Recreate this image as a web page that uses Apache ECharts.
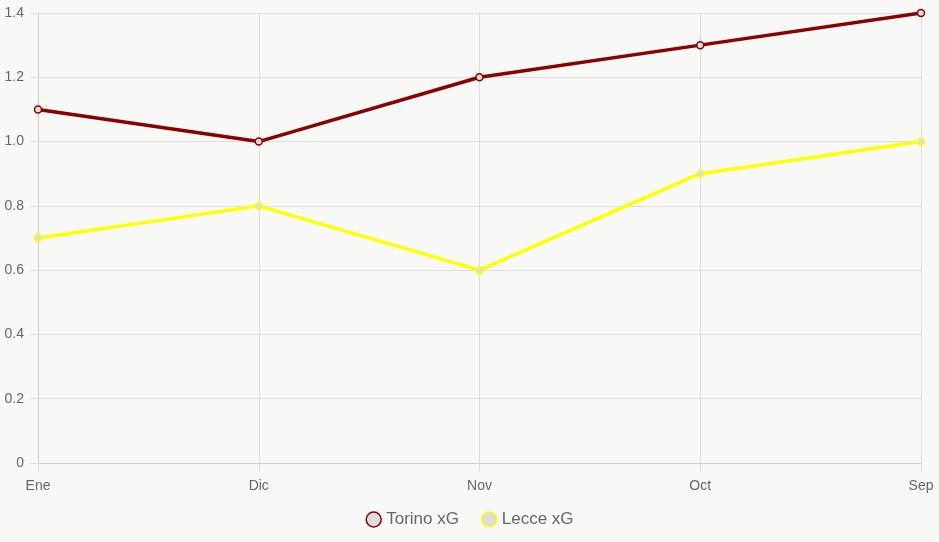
<!DOCTYPE html>
<html>
<head>
<meta charset="utf-8">
<script src="https://cdn.jsdelivr.net/npm/echarts@6/dist/echarts.min.js"></script>
<style>
  html, body { margin: 0; padding: 0; background: #f8f8f6; }
  #main { width: 939px; height: 542px; }
</style>
</head>
<body>
<div id="main"></div>
<script>
const months = ["Ene", "Dic", "Nov", "Oct", "Sep"];
const torinoXG = [1.1, 1.0, 1.2, 1.3, 1.4];
const lecceXG = [0.7, 0.8, 0.6, 0.9, 1.0];

const chart = echarts.init(document.getElementById("main"));

const lineSeries = (name, data, color) => ({
  name: name,
  type: "line",
  data: data,
  symbol: "circle",
  symbolSize: 7,
  lineStyle: { color: color, width: 3.5 },
  itemStyle: { color: "#dddddd", borderColor: color, borderWidth: 1.5 },
  emphasis: { disabled: true },
});

chart.setOption({
  backgroundColor: "#f8f8f6",
  animation: false,
  textStyle: { fontFamily: "Liberation Sans, Arial, sans-serif" },
  grid: { left: 38, right: 18, top: 13, bottom: 79 },
  legend: {
    bottom: 9,
    left: "center",
    icon: "circle",
    itemWidth: 15,
    itemHeight: 15,
    itemGap: 22,
    textStyle: { color: "#666", fontSize: 17 },
    data: [
      { name: "Torino xG", itemStyle: { color: "#dddddd", borderColor: "#8b0000", borderWidth: 1.5 } },
      { name: "Lecce xG", itemStyle: { color: "#dddddd", borderColor: "#ffff00", borderWidth: 1.5 } },
    ],
  },
  xAxis: {
    type: "category",
    data: months,
    boundaryGap: false,
    axisLine: { lineStyle: { color: "#cccccc" } },
    axisTick: { show: true, length: 8, lineStyle: { color: "#dddddd" } },
    axisLabel: { color: "#666", fontSize: 14, margin: 16 },
    splitLine: { show: true, lineStyle: { color: "#dddddd" } },
  },
  yAxis: {
    type: "value",
    min: 0,
    max: 1.4,
    interval: 0.2,
    axisLine: { show: true, lineStyle: { color: "#cccccc" } },
    axisTick: { show: true, length: 8, lineStyle: { color: "#dddddd" } },
    axisLabel: {
      color: "#666",
      fontSize: 14,
      margin: 14,
      formatter: (v) => (v === 0 ? "0" : v.toFixed(1)),
    },
    splitLine: { show: true, lineStyle: { color: "#dddddd" } },
  },
  series: [
    lineSeries("Torino xG", torinoXG, "#8b0000"),
    lineSeries("Lecce xG", lecceXG, "#ffff00"),
  ],
});
</script>
</body>
</html>
